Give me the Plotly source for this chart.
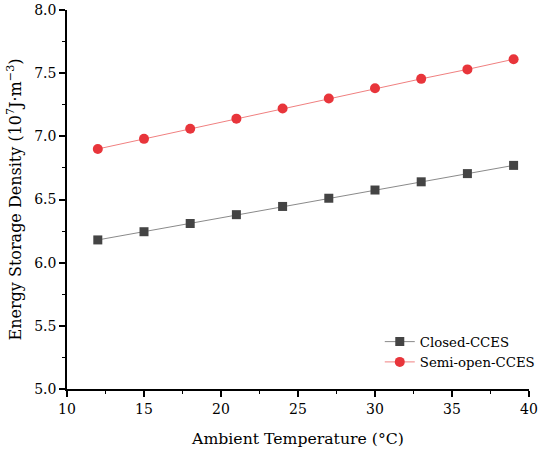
import plotly.graph_objects as go

temps = [12, 15, 18, 21, 24, 27, 30, 33, 36, 39]
closed = [6.18, 6.245, 6.31, 6.38, 6.445, 6.51, 6.575, 6.64, 6.705, 6.77]
semi_open = [6.90, 6.98, 7.06, 7.14, 7.22, 7.30, 7.38, 7.455, 7.53, 7.61]

FONT = "DejaVu Serif"

fig = go.Figure()
fig.add_trace(go.Scatter(
    x=temps, y=closed, mode="lines+markers", name="Closed-CCES",
    line=dict(color="#8a8a8a", width=1),
    marker=dict(symbol="square", size=9, color="#444444"),
))
fig.add_trace(go.Scatter(
    x=temps, y=semi_open, mode="lines+markers", name="Semi-open-CCES",
    line=dict(color="#f08080", width=1),
    marker=dict(symbol="circle", size=10, color="#e8353b"),
))

axis_common = dict(
    showgrid=False, zeroline=False, showline=True, linecolor="black", linewidth=1.5,
    ticks="outside", ticklen=6, tickwidth=1.5, tickcolor="black",
    tickfont=dict(family=FONT, size=14, color="black"),
    mirror=False, automargin=False,
)

fig.update_layout(
    width=550, height=455,
    margin=dict(l=67, r=12, t=10, b=66),
    paper_bgcolor="white", plot_bgcolor="white",
    font=dict(family=FONT, color="black"),
    xaxis=dict(
        range=[10, 40], dtick=5, tick0=10,
        minor=dict(dtick=2.5, ticks="outside", ticklen=3, tickwidth=1.2, tickcolor="black"),
        title=dict(text="Ambient Temperature (°C)", font=dict(family=FONT, size=15.7), standoff=17),
        **axis_common,
    ),
    yaxis=dict(
        range=[5.0, 8.0], dtick=0.5, tick0=5.0, tickformat=".1f",
        minor=dict(dtick=0.25, ticks="outside", ticklen=3, tickwidth=1.2, tickcolor="black"),
        title=dict(text="Energy Storage Density (10<sup>7</sup>J·m<sup>−3</sup>)",
                   font=dict(family=FONT, size=16), standoff=9),
        **axis_common,
    ),
    legend=dict(
        x=0.677, y=0.165, xanchor="left", yanchor="top",
        font=dict(family=FONT, size=13.3, color="black"),
        bgcolor="rgba(0,0,0,0)", tracegroupgap=0,
    ),
    showlegend=True,
)

fig.write_html("out.html", config={"displayModeBar": False},
               post_script="document.body.style.margin='0';")
